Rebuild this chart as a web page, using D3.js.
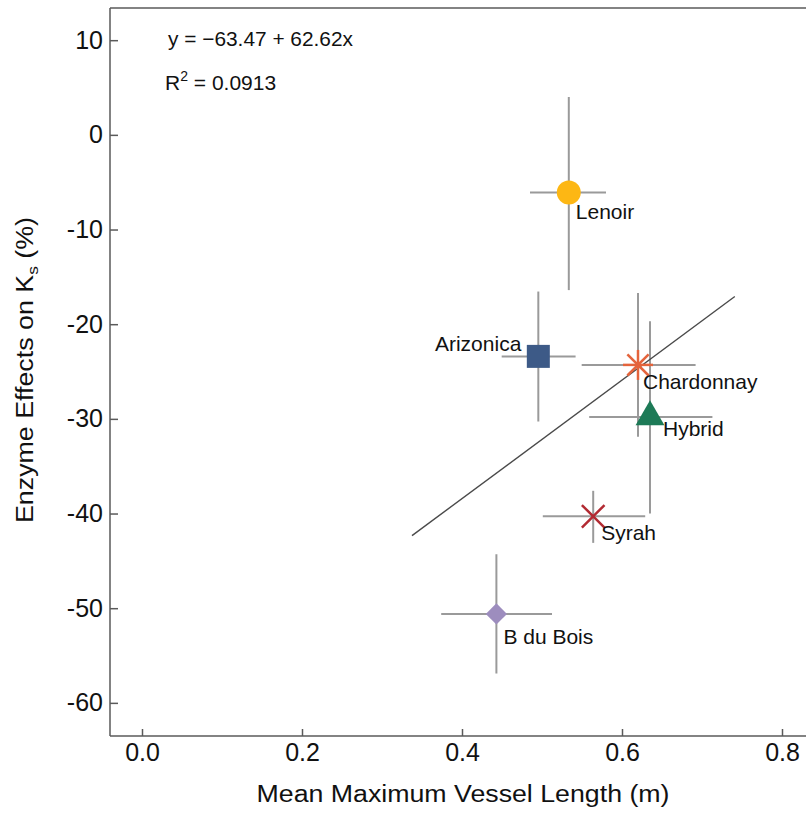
<!DOCTYPE html>
<html>
<head>
<meta charset="utf-8">
<script src="https://cdn.jsdelivr.net/npm/d3@7"></script>
<style>
  body { margin: 0; background: #fff; }
  svg { display: block; font-family: "Liberation Sans", Arial, Helvetica, sans-serif; }
</style>
</head>
<body>
<svg id="chart" width="806" height="814"></svg>
<script>
// ---- data ----
const cultivars = ["Lenoir", "Arizonica", "Chardonnay", "Hybrid", "Syrah", "B du Bois"];
const vesselLength = [0.5335, 0.4954, 0.620, 0.635, 0.564, 0.443];
const vesselLow    = [0.485, 0.4496, 0.5496, 0.559, 0.501, 0.374];
const vesselHigh   = [0.580, 0.542, 0.692, 0.713, 0.629, 0.5125];
const enzymeEffect = [-6.1, -23.4, -24.3, -29.8, -40.3, -50.6];
const effectHigh   = [4.0, -16.55, -16.7, -19.7, -37.6, -44.3];
const effectLow    = [-16.4, -30.28, -31.9, -40.0, -43.1, -56.9];
const xTicks = [0.0, 0.2, 0.4, 0.6, 0.8];
const yTicks = [10, 0, -10, -20, -30, -40, -50, -60];
const fitIntercept = -63.47, fitSlope = 62.62, fitR2 = 0.0913;
const fitRange = [0.3375, 0.741];

// ---- styling (not data) ----
const markerShape = ["circle", "square", "asterisk", "triangle", "cross", "diamond"];
const markerColor = ["#FDB714", "#3D5A87", "#E4643C", "#1D7A57", "#B22A32", "#9D8DBE"];
const labelDx = [7, -17, 5, 13, 8, 7];
const labelDy = [26, -5, 24, 19, 24, 30];
const labelAnchor = ["start", "end", "start", "start", "start", "start"];

const svg = d3.select("#chart");
const pLeft = 110, pTop = 8, pRight = 806, pBottom = 736;

const x = d3.scaleLinear().domain([-0.04, 0.83]).range([pLeft, pRight]);
const y = d3.scaleLinear().domain([-63.5, 13.4]).range([pBottom, pTop]);

const axisColor = "#5a5a5a";

// top border
svg.append("line")
  .attr("x1", pLeft).attr("x2", pRight).attr("y1", pTop).attr("y2", pTop)
  .attr("stroke", axisColor).attr("stroke-width", 1.5);

// axes
const gx = svg.append("g").attr("transform", `translate(0,${pBottom})`)
  .call(d3.axisBottom(x).tickValues(xTicks).tickFormat(d3.format(".1f"))
    .tickSizeInner(-7).tickSizeOuter(0).tickPadding(7));
gx.select(".domain").attr("d", `M${pLeft},0H${pRight}`);
const gy = svg.append("g").attr("transform", `translate(${pLeft},0)`)
  .call(d3.axisLeft(y).tickValues(yTicks).tickFormat(d3.format("d"))
    .tickSizeInner(-8).tickSizeOuter(0).tickPadding(7));
gy.select(".domain").attr("d", `M0,${pTop}V${pBottom}`);
[gx, gy].forEach(g => {
  g.selectAll(".domain").attr("stroke", axisColor).attr("stroke-width", 1.5);
  g.selectAll(".tick line").attr("stroke", axisColor).attr("stroke-width", 1.5);
  g.selectAll(".tick text").attr("fill", "#111").attr("font-size", 25)
    .attr("font-family", "Liberation Sans, Arial, sans-serif");
});
gy.selectAll(".tick text").text(d => String(d));

// axis titles
svg.append("text")
  .attr("x", 463).attr("y", 802).attr("text-anchor", "middle")
  .attr("font-size", 23).attr("fill", "#111")
  .attr("textLength", 413).attr("lengthAdjust", "spacingAndGlyphs")
  .text("Mean Maximum Vessel Length (m)");

const yt = svg.append("text")
  .attr("transform", "translate(33,370) rotate(-90)")
  .attr("text-anchor", "middle").attr("font-size", 23).attr("fill", "#111")
  .attr("textLength", 306).attr("lengthAdjust", "spacingAndGlyphs");
yt.append("tspan").text("Enzyme Effects on K");
yt.append("tspan").attr("font-size", 15).attr("dy", 5).text("s");
yt.append("tspan").attr("dy", -5).text(" (%)");

// error bars
const idx = d3.range(cultivars.length);
const eb = svg.append("g").attr("stroke", "#9a9a9a").attr("stroke-width", 2);
eb.selectAll(".h").data(idx).join("line").attr("class", "h")
  .attr("x1", i => x(vesselLow[i])).attr("x2", i => x(vesselHigh[i]))
  .attr("y1", i => y(enzymeEffect[i])).attr("y2", i => y(enzymeEffect[i]));
eb.selectAll(".v").data(idx).join("line").attr("class", "v")
  .attr("x1", i => x(vesselLength[i])).attr("x2", i => x(vesselLength[i]))
  .attr("y1", i => y(effectHigh[i])).attr("y2", i => y(effectLow[i]));

// regression line
svg.append("line")
  .attr("x1", x(fitRange[0])).attr("y1", y(fitIntercept + fitSlope * fitRange[0]))
  .attr("x2", x(fitRange[1])).attr("y2", y(fitIntercept + fitSlope * fitRange[1]))
  .attr("stroke", "#4a4a4a").attr("stroke-width", 1.4);

// markers
const mk = svg.append("g");
idx.forEach(i => {
  const cx = x(vesselLength[i]), cy = y(enzymeEffect[i]);
  const col = markerColor[i];
  const g = mk.append("g").attr("transform", `translate(${cx},${cy})`);
  switch (markerShape[i]) {
    case "circle":
      g.append("circle").attr("r", 12).attr("fill", col); break;
    case "square":
      g.append("path").attr("d", d3.symbol(d3.symbolSquare, 529)()).attr("fill", col); break;
    case "triangle":
      g.append("path").attr("d", d3.symbol(d3.symbolTriangle, 361)()).attr("fill", col); break;
    case "diamond":
      g.append("path").attr("d", d3.symbol(d3.symbolSquare, 225)()).attr("transform", "rotate(45)").attr("fill", col); break;
    case "asterisk":
      [0, 45, 90, 135].forEach(a => {
        const r = 15, t = a * Math.PI / 180;
        g.append("line").attr("x1", -r * Math.cos(t)).attr("y1", -r * Math.sin(t))
          .attr("x2", r * Math.cos(t)).attr("y2", r * Math.sin(t))
          .attr("stroke", col).attr("stroke-width", 2.5);
      });
      break;
    case "cross":
      [45, 135].forEach(a => {
        const r = 16, t = a * Math.PI / 180;
        g.append("line").attr("x1", -r * Math.cos(t)).attr("y1", -r * Math.sin(t))
          .attr("x2", r * Math.cos(t)).attr("y2", r * Math.sin(t))
          .attr("stroke", col).attr("stroke-width", 2.5);
      });
      break;
  }
});

// labels
svg.append("g").selectAll("text").data(idx).join("text")
  .attr("x", i => x(vesselLength[i]) + labelDx[i])
  .attr("y", i => y(enzymeEffect[i]) + labelDy[i])
  .attr("text-anchor", i => labelAnchor[i])
  .attr("font-size", 21).attr("fill", "#111")
  .text(i => cultivars[i]);

// equation annotation
svg.append("text").attr("x", 168).attr("y", 46).attr("font-size", 21).attr("fill", "#111")
  .attr("textLength", 185).attr("lengthAdjust", "spacingAndGlyphs")
  .text(`y = \u2212${Math.abs(fitIntercept).toFixed(2)} + ${fitSlope.toFixed(2)}x`);
const r2 = svg.append("text").attr("x", 165).attr("y", 90).attr("font-size", 21).attr("fill", "#111");
r2.append("tspan").text("R");
r2.append("tspan").attr("font-size", 14).attr("dy", -9).text("2");
r2.append("tspan").attr("dy", 9).text(` = ${fitR2}`);
</script>
</body>
</html>
